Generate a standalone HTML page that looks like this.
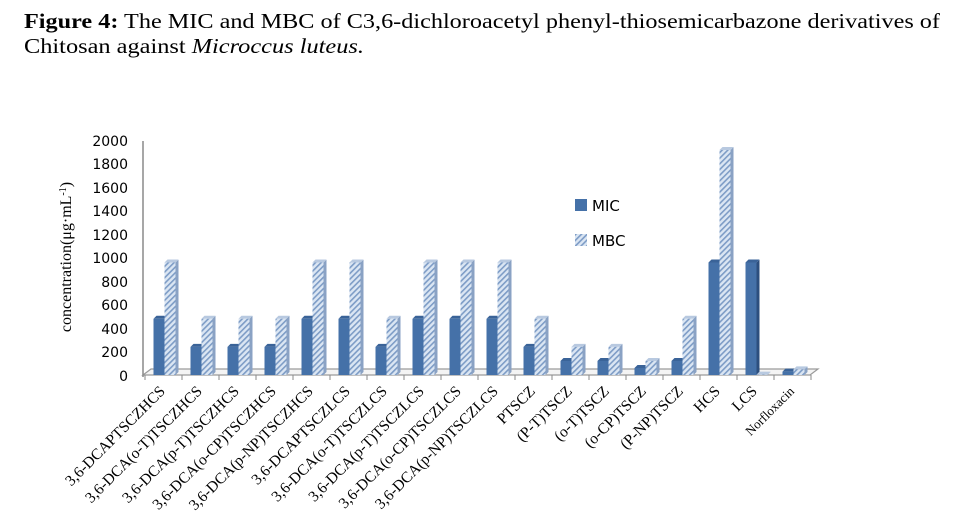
<!DOCTYPE html>
<html><head><meta charset="utf-8"><style>
html,body{margin:0;padding:0;background:#fff;}
svg{display:block}
.t{font-family:"Liberation Serif",serif;font-size:21px;}
.lab{font-family:"Liberation Serif",serif;font-size:15.5px;fill:#000;}
.ax{font-family:"DejaVu Sans","Liberation Sans",sans-serif;font-size:14px;fill:#000;}
</style></head><body>
<svg id="s" width="973" height="531" viewBox="0 0 973 531" xmlns="http://www.w3.org/2000/svg">
<defs>
<pattern id="h" width="4" height="4" patternUnits="userSpaceOnUse" patternTransform="rotate(45)">
<rect width="4" height="4" fill="#dbe6f3"/><rect width="1.6" height="4" fill="#7d9cc6"/>
</pattern>
</defs>
<text class="t" x="24" y="28" textLength="916" lengthAdjust="spacingAndGlyphs"><tspan font-weight="bold">Figure 4:</tspan> The MIC and MBC of C3,6-dichloroacetyl phenyl-thiosemicarbazone derivatives of</text>
<text class="t" x="24" y="53" textLength="340" lengthAdjust="spacingAndGlyphs">Chitosan against <tspan font-style="italic">Microccus luteus.</tspan></text>
<polygon points="143,375 151,369 818,369 810,375" fill="#f4f4f4" stroke="#9a9a9a" stroke-width="1.2"/>
<line x1="143" y1="141" x2="143" y2="377" stroke="#8a8a8a" stroke-width="1.5"/>
<g id="bars"></g>
<g class="ax" text-anchor="end">
<text x="128" y="146">2000</text><text x="128" y="169">1800</text><text x="128" y="193">1600</text>
<text x="128" y="216">1400</text><text x="128" y="240">1200</text><text x="128" y="263">1000</text>
<text x="128" y="287">800</text><text x="128" y="310">600</text><text x="128" y="334">400</text>
<text x="128" y="357">200</text><text x="128" y="381">0</text>
</g>
<text class="lab" style="font-size:16px" transform="translate(71,257) rotate(-90)" text-anchor="middle">concentration(μg·mL<tspan dy="-5" font-size="10">-1</tspan><tspan dy="5">)</tspan></text>
<rect x="575" y="199" width="12" height="12" fill="#4571a8"/>
<rect x="575" y="234" width="12" height="12" fill="url(#h)"/>
<text class="ax" x="592" y="211" style="font-size:15px">MIC</text>
<text class="ax" x="592" y="246" style="font-size:15px">MBC</text>
<g class="lab" text-anchor="end">
<text transform="translate(166,392) rotate(-45)">3,6-DCAPTSCZHCS</text>
<text transform="translate(203,392) rotate(-45)">3,6-DCA(o-T)TSCZHCS</text>
<text transform="translate(240,392) rotate(-45)">3,6-DCA(p-T)TSCZHCS</text>
<text transform="translate(277,392) rotate(-45)">3,6-DCA(o-CP)TSCZHCS</text>
<text transform="translate(314,392) rotate(-45)">3,6-DCA(p-NP)TSCZHCS</text>
<text transform="translate(351,392) rotate(-45)">3,6-DCAPTSCZLCS</text>
<text transform="translate(388,392) rotate(-45)">3,6-DCA(o-T)TSCZLCS</text>
<text transform="translate(425,392) rotate(-45)">3,6-DCA(p-T)TSCZLCS</text>
<text transform="translate(462,392) rotate(-45)">3,6-DCA(o-CP)TSCZLCS</text>
<text transform="translate(499,392) rotate(-45)">3,6-DCA(p-NP)TSCZLCS</text>
<text transform="translate(536,392) rotate(-45)">PTSCZ</text>
<text transform="translate(573,392) rotate(-45)">(P-T)TSCZ</text>
<text transform="translate(610,392) rotate(-45)">(o-T)TSCZ</text>
<text transform="translate(647,392) rotate(-45)">(o-CP)TSCZ</text>
<text transform="translate(684,392) rotate(-45)">(P-NP)TSCZ</text>
<text transform="translate(721,392) rotate(-45)">HCS</text>
<text transform="translate(758,392) rotate(-45)">LCS</text>
<text transform="translate(795,392) rotate(-45)" style="font-size:13px">Norfloxacin</text>
</g>
</svg>
<script>
var mic=[500,250,250,250,500,500,250,500,500,500,250,125,125,62.5,125,1000,1000,30];
var mbc=[1000,500,500,500,1000,1000,500,1000,1000,1000,500,250,250,125,500,2000,3,50];
var g=document.getElementById('bars'),html='';
function bar(x,w,h,fill,side,top){
 var b=375,t=b-h,d=3;
 html+='<polygon points="'+(x+w)+','+b+' '+(x+w+d)+','+(b-d)+' '+(x+w+d)+','+(t-d)+' '+(x+w)+','+t+'" fill="'+side+'"/>';
 html+='<polygon points="'+x+','+t+' '+(x+d)+','+(t-d)+' '+(x+w+d)+','+(t-d)+' '+(x+w)+','+t+'" fill="'+top+'"/>';
 html+='<rect x="'+x+'" y="'+t+'" width="'+w+'" height="'+h+'" fill="'+fill+'"/>';
}
for(var i=0;i<18;i++){
 var c=163.5+37*i;
 html+='<line x1="'+(145+37*i)+'" y1="375" x2="'+(145+37*i)+'" y2="380" stroke="#8a8a8a"/>';
 bar(c-10,11,mic[i]*0.1125,'#4571a8','#2d4f7e','#3a6398');
 bar(c+1,11,mbc[i]*0.1125,'url(#h)','#8aa2c4','#b8c9e0');
}
html+='<line x1="811" y1="375" x2="811" y2="380" stroke="#8a8a8a"/>';
g.innerHTML=html;
</script>
</body></html>
